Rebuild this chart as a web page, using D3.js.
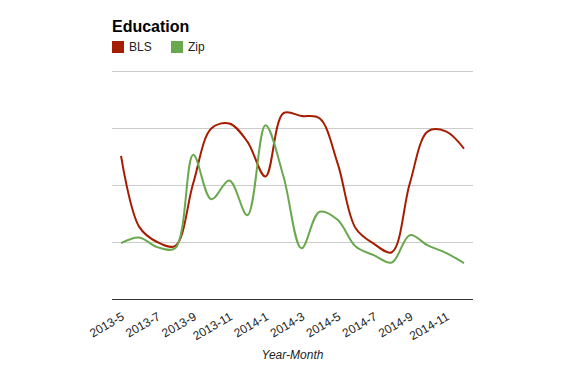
<!DOCTYPE html>
<html lang="en">
<head>
    <meta charset="UTF-8">
    <title>Education</title>
    <script src="https://cdn.jsdelivr.net/npm/d3@7"></script>
    <style>
        body { margin: 0; background: #fff; }
        text { font-family: Arial, "Liberation Sans", sans-serif; }
    </style>
</head>
<body>
<script>
    // months on the x axis, 2013-5 .. 2014-12
    var months = ["2013-5", "2013-6", "2013-7", "2013-8", "2013-9", "2013-10", "2013-11", "2013-12",
        "2014-1", "2014-2", "2014-3", "2014-4", "2014-5", "2014-6", "2014-7", "2014-8",
        "2014-9", "2014-10", "2014-11", "2014-12"];
    var blsValues = [2.51, 1.27, 1.0, 0.93, 2.03, 2.99, 3.08, 2.76, 2.15, 3.26,
        3.21, 3.17, 2.38, 1.24, 0.97, 0.82, 2.03, 2.94, 2.94, 2.64];
    var zipValues = [0.98, 1.08, 0.91, 0.89, 2.53, 1.75, 2.08, 1.47, 3.05, 2.15,
        0.89, 1.53, 1.39, 0.92, 0.77, 0.64, 1.12, 0.94, 0.81, 0.63];
    var gridValues = [1, 2, 3, 4];
    var series = [
        {name: "BLS", values: blsValues, color: "#a61c00"},
        {name: "Zip", values: zipValues, color: "#6aa84f"}
    ];

    function drawChart() {
        var w = 585, h = 371;
        var plotLeft = 112, plotRight = 473, plotTop = 71, plotBottom = 299;

        var svg = d3.select("body").append("svg")
            .attr("width", w)
            .attr("height", h);

        var xScale = d3.scaleBand()
            .domain(months)
            .range([plotLeft, plotRight]);
        var yScale = d3.scaleLinear()
            .domain([0, 4])
            .range([plotBottom, plotTop]);

        function xPos(d) {
            return xScale(d) + xScale.bandwidth() / 2;
        }

        // gridlines
        svg.selectAll("line.grid")
            .data(gridValues)
            .enter()
            .append("line")
            .attr("class", "grid")
            .attr("x1", plotLeft)
            .attr("x2", plotRight)
            .attr("y1", function (d) { return Math.round(yScale(d)) + 0.5; })
            .attr("y2", function (d) { return Math.round(yScale(d)) + 0.5; })
            .attr("stroke", "#cccccc")
            .attr("stroke-width", 1);

        // lines
        var line = d3.line()
            .x(function (d, i) { return xPos(months[i]); })
            .y(function (d) { return yScale(d); })
            .curve(d3.curveCatmullRom.alpha(0.5));

        svg.selectAll("path.series")
            .data(series)
            .enter()
            .append("path")
            .attr("class", "series")
            .attr("d", function (d) { return line(d.values); })
            .attr("fill", "none")
            .attr("stroke", function (d) { return d.color; })
            .attr("stroke-width", 2);

        // baseline
        svg.append("line")
            .attr("x1", plotLeft)
            .attr("x2", plotRight)
            .attr("y1", plotBottom + 0.5)
            .attr("y2", plotBottom + 0.5)
            .attr("stroke", "#333333")
            .attr("stroke-width", 1);

        // x labels, every other month
        var xAxis = d3.axisBottom(xScale)
            .tickValues(months.filter(function (d, i) { return i % 2 === 0; }))
            .tickSize(0)
            .tickPadding(0);
        var gx = svg.append("g")
            .attr("transform", "translate(0," + plotBottom + ")")
            .call(xAxis);
        gx.select(".domain").remove();
        gx.selectAll("text")
            .attr("y", 0)
            .attr("dy", 0)
            .attr("font-size", "12px")
            .attr("font-family", "Arial, 'Liberation Sans', sans-serif")
            .attr("fill", "#222222")
            .attr("text-anchor", "end")
            .attr("transform", "translate(4,20) rotate(-30)");

        svg.append("text")
            .attr("x", (plotLeft + plotRight) / 2)
            .attr("y", 359)
            .attr("text-anchor", "middle")
            .attr("font-size", "12px")
            .attr("font-style", "italic")
            .attr("fill", "#222222")
            .text("Year-Month");

        // title + legend
        svg.append("text")
            .attr("x", plotLeft)
            .attr("y", 32)
            .attr("font-size", "16px")
            .attr("font-weight", "bold")
            .attr("fill", "#000000")
            .text("Education");

        var legend = svg.selectAll("g.legend")
            .data(series)
            .enter()
            .append("g")
            .attr("class", "legend")
            .attr("transform", function (d, i) { return "translate(" + (plotLeft + i * 59) + ",41)"; });
        legend.append("rect")
            .attr("width", 12)
            .attr("height", 12)
            .attr("fill", function (d) { return d.color; });
        legend.append("text")
            .attr("x", 17)
            .attr("y", 10)
            .attr("font-size", "12px")
            .attr("fill", "#222222")
            .text(function (d) { return d.name; });
    }
    drawChart();
</script>
</body>
</html>
